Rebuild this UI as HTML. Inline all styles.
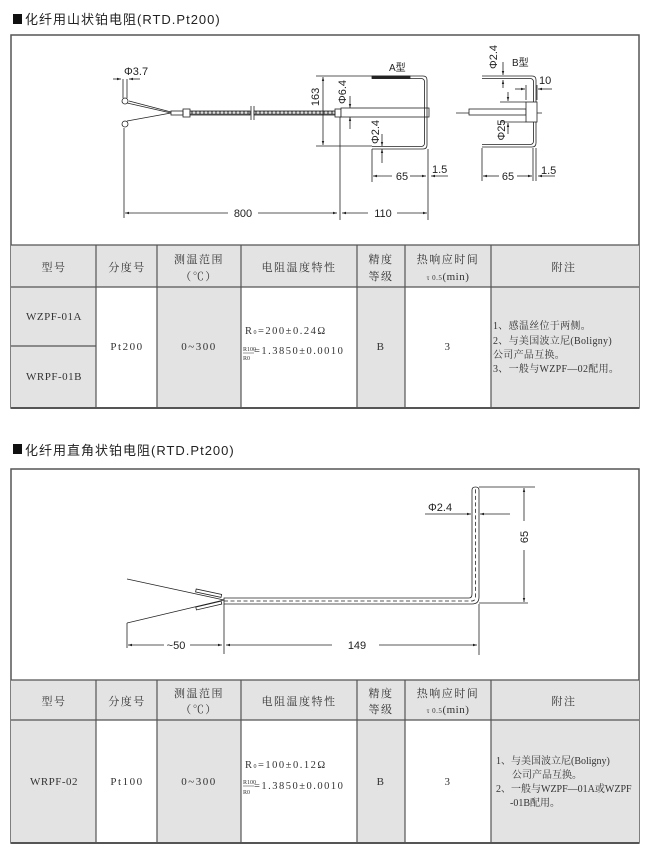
<!DOCTYPE html>
<html><head><meta charset="utf-8"><style>
html,body{margin:0;padding:0;background:#fff;}
svg{display:block}
.t{font-family:"Liberation Sans","Noto Sans CJK SC",sans-serif;}
.s{font-family:"Liberation Serif","Noto Serif CJK SC",serif;fill:#333;}
</style></head><body>
<svg width="650" height="854" viewBox="0 0 650 854" xmlns="http://www.w3.org/2000/svg">
<defs>
<marker id="a" viewBox="0 0 10 10" refX="10" refY="5" markerWidth="5" markerHeight="5" orient="auto-start-reverse"><path d="M0,2L10,5L0,8z" fill="#222"/></marker>
<pattern id="br" width="4" height="5" patternUnits="userSpaceOnUse"><rect width="4" height="5" fill="#666"/><circle cx="2" cy="2.5" r="1.3" fill="#ddd"/></pattern>
</defs>
<rect x="13" y="14" width="9" height="10" fill="#111"/>
<text x="25" y="24" class="t" font-size="13" fill="#222" letter-spacing="1">化纤用山状铂电阻(RTD.Pt200)</text>
<rect x="13" y="444" width="9" height="10" fill="#111"/>
<text x="25" y="455" class="t" font-size="13" fill="#222" letter-spacing="1">化纤用直角状铂电阻(RTD.Pt200)</text>

<rect x="11" y="35" width="628" height="373" fill="none" stroke="#555" stroke-width="1.5"/>
<g stroke="#222" stroke-width="0.8" fill="none">
<line x1="123" y1="79" x2="123" y2="98"/><line x1="127" y1="79" x2="127" y2="98"/>
<circle cx="125" cy="101" r="3"/><circle cx="125" cy="124" r="3"/>
<path d="M127,103 L171,113 L127,121"/><path d="M129,101 L171,112"/>
<rect x="171" y="111" width="12" height="4"/><rect x="183" y="109" width="7" height="8"/>
<rect x="190" y="111" width="60" height="4" fill="url(#br)"/>
<line x1="251" y1="106" x2="251" y2="120"/><line x1="254" y1="106" x2="254" y2="120"/>
<rect x="254" y="111" width="81" height="4" fill="url(#br)"/>
<rect x="335" y="109" width="6" height="8"/>
<rect x="341" y="108" width="88" height="9" fill="#fff"/>
<path d="M372,76 L423,76 Q427,76 427,80 L427,145 Q427,149 423,149 L372,149"/>
<path d="M372,78.5 L421,78.5 Q424.5,78.5 424.5,82 L424.5,143 Q424.5,146.5 421,146.5 L372,146.5"/>
<rect x="372" y="76" width="38" height="2.5" fill="#222"/>
<line x1="113" y1="79" x2="121" y2="79" marker-end="url(#a)"/><line x1="140" y1="79" x2="129" y2="79" marker-end="url(#a)"/>
<line x1="316" y1="76" x2="372" y2="76"/><line x1="316" y1="146" x2="372" y2="146"/>
<line x1="323" y1="77" x2="323" y2="145" marker-start="url(#a)" marker-end="url(#a)"/>
<line x1="350" y1="96" x2="350" y2="108" marker-end="url(#a)"/><line x1="350" y1="129" x2="350" y2="117" marker-end="url(#a)"/>
<line x1="382" y1="134" x2="382" y2="146" marker-end="url(#a)"/><line x1="382" y1="163" x2="382" y2="149" marker-end="url(#a)"/>
<line x1="372" y1="149" x2="372" y2="182"/><line x1="428" y1="149" x2="428" y2="220"/>
<line x1="340" y1="117" x2="340" y2="220"/><line x1="124" y1="128" x2="124" y2="218"/>
<line x1="373" y1="176" x2="392" y2="176" marker-start="url(#a)"/><line x1="410" y1="176" x2="426" y2="176" marker-end="url(#a)"/>
<line x1="448" y1="176" x2="431" y2="176" marker-end="url(#a)"/>
<line x1="125" y1="213" x2="228" y2="213" marker-start="url(#a)"/><line x1="258" y1="213" x2="337" y2="213" marker-end="url(#a)"/>
<line x1="342" y1="213" x2="368" y2="213" marker-start="url(#a)"/><line x1="397" y1="213" x2="427" y2="213" marker-end="url(#a)"/>
<line x1="456" y1="113" x2="542" y2="113"/>
<rect x="469" y="109" width="57" height="6" fill="#fff"/>
<path d="M482,76 L532,76 Q536,76 536,80 L536,143 Q536,147 532,147 L482,147"/>
<path d="M482,78.5 L530,78.5 Q533.5,78.5 533.5,82 L533.5,141 Q533.5,144.5 530,144.5 L482,144.5"/>
<rect x="526" y="102" width="11" height="20" fill="#fff"/>
<line x1="503" y1="62" x2="503" y2="75" marker-end="url(#a)"/><line x1="503" y1="88" x2="503" y2="80" marker-end="url(#a)"/>
<line x1="515" y1="89" x2="525" y2="89" marker-end="url(#a)"/><line x1="552" y1="89" x2="538" y2="89" marker-end="url(#a)"/>
<line x1="526" y1="85" x2="526" y2="100"/><line x1="537" y1="85" x2="537" y2="100"/>
<line x1="500" y1="102" x2="526" y2="102"/><line x1="500" y1="122" x2="526" y2="122"/>
<line x1="508" y1="92" x2="508" y2="101" marker-end="url(#a)"/><line x1="508" y1="134" x2="508" y2="123" marker-end="url(#a)"/>
<line x1="482" y1="148" x2="482" y2="181"/><line x1="533" y1="148" x2="533" y2="181"/><line x1="536" y1="148" x2="536" y2="181"/>
<line x1="483" y1="176" x2="499" y2="176" marker-start="url(#a)"/><line x1="517" y1="176" x2="532" y2="176" marker-end="url(#a)"/>
<line x1="555" y1="176" x2="538" y2="176" marker-end="url(#a)"/>
</g>
<g class="t" font-size="11" fill="#222">
<text x="124" y="75">Φ3.7</text>
<text x="389" y="71" font-size="10">A型</text>
<text x="402" y="180" text-anchor="middle">65</text>
<text x="432" y="173">1.5</text>
<text x="243" y="217" text-anchor="middle">800</text>
<text x="383" y="217" text-anchor="middle">110</text>
<text transform="translate(319,97) rotate(-90)" text-anchor="middle">163</text>
<text transform="translate(346,92) rotate(-90)" text-anchor="middle">Φ6.4</text>
<text transform="translate(379,132) rotate(-90)" text-anchor="middle">Φ2.4</text>
<text x="512" y="66" font-size="10">B型</text>
<text transform="translate(497,57) rotate(-90)" text-anchor="middle">Φ2.4</text>
<text x="539" y="84">10</text>
<text transform="translate(505,130) rotate(-90)" text-anchor="middle">Φ25</text>
<text x="508" y="180" text-anchor="middle">65</text>
<text x="541" y="174">1.5</text>
</g>

<g fill="#e3e3e3">
<rect x="11" y="245" width="85" height="163"/><rect x="157" y="245" width="84" height="163"/>
<rect x="357" y="245" width="48" height="163"/><rect x="491" y="245" width="148" height="163"/>
<rect x="96" y="245" width="61" height="42"/><rect x="241" y="245" width="116" height="42"/><rect x="405" y="245" width="86" height="42"/>
</g>
<g stroke="#555" stroke-width="1.2" fill="none">
<line x1="11" y1="245" x2="639" y2="245"/><line x1="11" y1="287" x2="639" y2="287"/><line x1="11" y1="346" x2="96" y2="346"/>
<line x1="11" y1="408" x2="639" y2="408" stroke-width="2"/>
<line x1="96" y1="245" x2="96" y2="408"/><line x1="157" y1="245" x2="157" y2="408"/><line x1="241" y1="245" x2="241" y2="408"/>
<line x1="357" y1="245" x2="357" y2="408"/><line x1="405" y1="245" x2="405" y2="408"/><line x1="491" y1="245" x2="491" y2="408"/>
</g>
<g class="s" font-size="11" letter-spacing="1.5">
<text x="54" y="271" text-anchor="middle">型号</text>
<text x="127" y="271" text-anchor="middle">分度号</text>
<text x="199" y="263" text-anchor="middle">测温范围</text>
<text x="199" y="280" text-anchor="middle">（℃）</text>
<text x="299" y="271" text-anchor="middle">电阻温度特性</text>
<text x="381" y="263" text-anchor="middle">精度</text>
<text x="381" y="280" text-anchor="middle">等级</text>
<text x="448" y="263" text-anchor="middle">热响应时间</text>
<text x="448" y="280" text-anchor="middle" letter-spacing="0.5"><tspan font-size="7">τ 0.5</tspan>(min)</text>
<text x="564" y="271" text-anchor="middle">附注</text>
<text x="54" y="320" text-anchor="middle" letter-spacing="0.5">WZPF-01A</text>
<text x="54" y="380" text-anchor="middle" letter-spacing="0.5">WRPF-01B</text>
<text x="127" y="350" text-anchor="middle">Pt200</text>
<text x="199" y="350" text-anchor="middle">0~300</text>
<text x="245" y="334" font-size="10.5">R<tspan font-size="6">0</tspan>=200±0.24Ω</text>
<text x="243" y="351" font-size="6" letter-spacing="0">R100</text><line x1="243" y1="353" x2="254" y2="353" stroke="#333" stroke-width="0.5"/>
<text x="243" y="360" font-size="6" letter-spacing="0">R0</text>
<text x="254" y="354" font-size="10.5">=1.3850±0.0010</text>
<text x="381" y="350" text-anchor="middle">B</text>
<text x="448" y="350" text-anchor="middle">3</text>
<g font-size="10" letter-spacing="0.3">
<text x="493" y="329">1、感温丝位于两侧。</text>
<text x="493" y="344">2、与美国波立尼(Boligny)</text>
<text x="493" y="358">公司产品互换。</text>
<text x="493" y="372">3、一般与WZPF—02配用。</text>
</g>
</g>

<rect x="11" y="469" width="628" height="374" fill="none" stroke="#555" stroke-width="1.5"/>
<g stroke="#222" stroke-width="0.8" fill="none">
<path d="M224,598 L469,598 Q472,598 472,594 L472,490 Q472,487 475.5,487 Q479,487 479,490 L479,597 Q479,604 472,604 L224,604 Z" fill="#fff"/>
<path d="M224,601 L472,601 Q475.5,601 475.5,596 L475.5,488" stroke-dasharray="4,2.5"/>
<path d="M127,579 L224,600 L127,623"/>
<rect x="196" y="589" width="26" height="3" transform="rotate(12,196,590)" fill="#fff"/>
<rect x="196" y="607" width="26" height="3" transform="rotate(-13,196,608)" fill="#fff"/>
<line x1="127" y1="623" x2="127" y2="648"/><line x1="224" y1="604" x2="224" y2="654"/><line x1="479" y1="604" x2="479" y2="655"/>
<line x1="128" y1="645" x2="164" y2="645" marker-start="url(#a)"/><line x1="190" y1="645" x2="222" y2="645" marker-end="url(#a)"/>
<line x1="226" y1="645" x2="332" y2="645" marker-start="url(#a)"/><line x1="379" y1="645" x2="477" y2="645" marker-end="url(#a)"/>
<line x1="479" y1="487" x2="535" y2="487"/><line x1="479" y1="603" x2="528" y2="603"/>
<line x1="524" y1="488" x2="524" y2="521" marker-start="url(#a)"/><line x1="524" y1="550" x2="524" y2="602" marker-end="url(#a)"/>
<line x1="425" y1="514" x2="471" y2="514" marker-end="url(#a)"/><line x1="510" y1="514" x2="480" y2="514" marker-end="url(#a)"/>
</g>
<g class="t" font-size="11" fill="#222">
<text x="176" y="649" text-anchor="middle">~50</text>
<text x="357" y="649" text-anchor="middle">149</text>
<text x="428" y="511">Φ2.4</text>
<text transform="translate(528,537) rotate(-90)" text-anchor="middle">65</text>
</g>

<g fill="#e3e3e3">
<rect x="11" y="680" width="85" height="163"/><rect x="157" y="680" width="84" height="163"/>
<rect x="357" y="680" width="48" height="163"/><rect x="491" y="680" width="148" height="163"/>
<rect x="96" y="680" width="61" height="40"/><rect x="241" y="680" width="116" height="40"/><rect x="405" y="680" width="86" height="40"/>
</g>
<g stroke="#555" stroke-width="1.2" fill="none">
<line x1="11" y1="680" x2="639" y2="680"/><line x1="11" y1="720" x2="639" y2="720"/>
<line x1="11" y1="843" x2="639" y2="843" stroke-width="2"/>
<line x1="96" y1="680" x2="96" y2="843"/><line x1="157" y1="680" x2="157" y2="843"/><line x1="241" y1="680" x2="241" y2="843"/>
<line x1="357" y1="680" x2="357" y2="843"/><line x1="405" y1="680" x2="405" y2="843"/><line x1="491" y1="680" x2="491" y2="843"/>
</g>
<g class="s" font-size="11" letter-spacing="1.5">
<text x="54" y="705" text-anchor="middle">型号</text>
<text x="127" y="705" text-anchor="middle">分度号</text>
<text x="199" y="697" text-anchor="middle">测温范围</text>
<text x="199" y="713" text-anchor="middle">（℃）</text>
<text x="299" y="705" text-anchor="middle">电阻温度特性</text>
<text x="381" y="697" text-anchor="middle">精度</text>
<text x="381" y="713" text-anchor="middle">等级</text>
<text x="448" y="697" text-anchor="middle">热响应时间</text>
<text x="448" y="713" text-anchor="middle" letter-spacing="0.5"><tspan font-size="7">τ 0.5</tspan>(min)</text>
<text x="564" y="705" text-anchor="middle">附注</text>
<text x="54" y="785" text-anchor="middle" letter-spacing="0.5">WRPF-02</text>
<text x="127" y="785" text-anchor="middle">Pt100</text>
<text x="199" y="785" text-anchor="middle">0~300</text>
<text x="245" y="768" font-size="10.5">R<tspan font-size="6">0</tspan>=100±0.12Ω</text>
<text x="243" y="784" font-size="6" letter-spacing="0">R100</text><line x1="243" y1="786" x2="254" y2="786" stroke="#333" stroke-width="0.5"/>
<text x="243" y="794" font-size="6" letter-spacing="0">R0</text>
<text x="254" y="789" font-size="10.5">=1.3850±0.0010</text>
<text x="381" y="785" text-anchor="middle">B</text>
<text x="448" y="785" text-anchor="middle">3</text>
<g font-size="10" letter-spacing="0">
<text x="496" y="764">1、与美国波立尼(Boligny)</text>
<text x="512" y="778">公司产品互换。</text>
<text x="496" y="792">2、一般与WZPF—01A或WZPF</text>
<text x="510" y="806">-01B配用。</text>
</g>
</g>
</svg>
</body></html>
